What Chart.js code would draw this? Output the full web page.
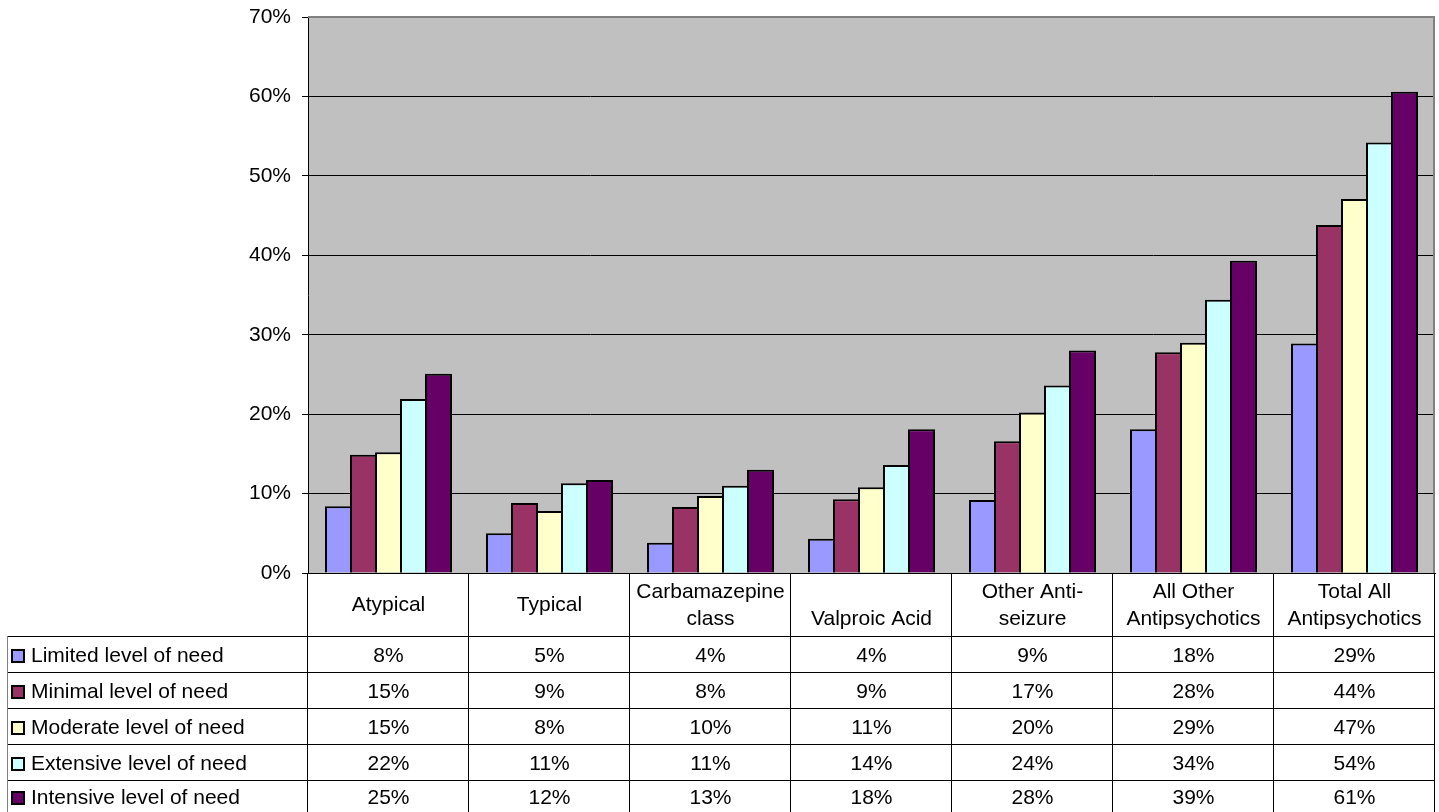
<!DOCTYPE html>
<html>
<head>
<meta charset="utf-8">
<script src="https://cdn.jsdelivr.net/npm/chart.js@4.4.0/dist/chart.umd.min.js"></script>
<style>
  html, body { margin: 0; padding: 0; background: #ffffff; overflow: hidden; }
  #wrap { position: relative; width: 1439px; height: 812px; }
</style>
</head>
<body>
<div id="wrap"><canvas id="chart" width="1439" height="812"></canvas></div>
<script>
// Medication classes (header row of the data table, one entry per text line)
const categories = [
  ['Atypical'],
  ['Typical'],
  ['Carbamazepine', 'class'],
  ['', 'Valproic Acid'],
  ['Other Anti-', 'seizure'],
  ['All Other', 'Antipsychotics'],
  ['Total All', 'Antipsychotics']
];

// Series names, one per level of need
const seriesNames = [
  'Limited level of need',
  'Minimal level of need',
  'Moderate level of need',
  'Extensive level of need',
  'Intensive level of need'
];

// Percent of people in each class, by level of need
const limited   = [8.4, 5.0, 3.8, 4.3, 9.2, 18.1, 28.9];
const minimal   = [14.9, 8.8, 8.3, 9.3, 16.6, 27.8, 43.8];
const moderate  = [15.2, 7.8, 9.7, 10.8, 20.2, 29.0, 47.1];
const extensive = [21.9, 11.3, 11.0, 13.6, 23.6, 34.4, 54.2];
const intensive = [25.1, 11.7, 13.0, 18.1, 28.0, 39.3, 60.6];

const seriesColors = ['#9999FF', '#993366', '#FFFFCC', '#CCFFFF', '#660066'];

// Value axis
const yMin = 0;
const yMax = 70;
const yStep = 10;

const FONT = '"Liberation Sans", Arial, sans-serif';
const FONT_SIZE = 21;

const seriesValues = [limited, minimal, moderate, extensive, intensive];

// Grey plot area behind the bars, grey frame on top/right
const plotFrame = {
  id: 'plotFrame',
  beforeDraw(chart) {
    const { ctx, chartArea: a } = chart;
    ctx.save();
    ctx.fillStyle = '#C0C0C0';
    ctx.fillRect(a.left, a.top, a.right - a.left, a.bottom - a.top);
    ctx.restore();
  },
  afterDatasetsDraw(chart) {
    const { ctx, chartArea: a } = chart;
    ctx.save();
    ctx.strokeStyle = '#808080';
    ctx.lineWidth = 2;
    ctx.beginPath();
    ctx.moveTo(a.left, a.top);
    ctx.lineTo(a.right - 1, a.top);
    ctx.lineTo(a.right - 1, a.bottom);
    ctx.stroke();
    ctx.restore();
  }
};

// Data table under the plot: class names, legend keys and rounded values
const dataTable = {
  id: 'dataTable',
  afterDraw(chart) {
    const { ctx, chartArea: a } = chart;
    const xs = chart.scales.x;
    const n = categories.length;
    const catW = (xs.right - xs.left) / n;
    const headerTop = a.bottom;
    const headerH = 63;
    const rowH = 36;
    const tableLeft = 7;
    const right = xs.right;
    const bottom = chart.height;

    ctx.save();
    ctx.font = FONT_SIZE + 'px ' + FONT;
    ctx.fillStyle = '#000';
    ctx.strokeStyle = '#000';
    ctx.lineWidth = 1;

    // column separators
    for (let k = 0; k <= n; k++) {
      const x = Math.round(xs.left + k * catW) - 0.5;
      ctx.beginPath();
      ctx.moveTo(x, headerTop);
      ctx.lineTo(x, bottom);
      ctx.stroke();
    }

    // row separators
    const rowTops = [];
    for (let r = 0; r < seriesNames.length; r++) {
      const y = headerTop + headerH + r * rowH;
      rowTops.push(y);
      ctx.beginPath();
      ctx.moveTo(tableLeft, Math.round(y) + 0.5);
      ctx.lineTo(right, Math.round(y) + 0.5);
      ctx.stroke();
    }

    // left edge of the legend column
    ctx.strokeStyle = '#808080';
    ctx.beginPath();
    ctx.moveTo(tableLeft + 0.5, headerTop + headerH);
    ctx.lineTo(tableLeft + 0.5, bottom);
    ctx.stroke();

    // header: class names
    ctx.textAlign = 'center';
    ctx.textBaseline = 'middle';
    const headMid = headerTop + headerH / 2 + 1;
    const lineH = 27;
    categories.forEach((lines, i) => {
      const cx = xs.getPixelForValue(i);
      const y0 = headMid - (lines.length - 1) * lineH / 2;
      lines.forEach((t, j) => ctx.fillText(t, cx, y0 + j * lineH));
    });

    // body rows
    seriesNames.forEach((name, r) => {
      const top = rowTops[r];
      const bot = Math.min(top + rowH, bottom);
      const mid = (top + bot) / 2 + 2;

      // legend key
      ctx.fillStyle = seriesColors[r];
      ctx.fillRect(11, mid - 7, 14, 14);
      ctx.strokeStyle = '#000';
      ctx.lineWidth = 2;
      ctx.strokeRect(12, mid - 6, 12, 12);

      ctx.fillStyle = '#000';
      ctx.textAlign = 'left';
      ctx.fillText(name, 31, mid);

      ctx.textAlign = 'center';
      seriesValues[r].forEach((v, i) => {
        ctx.fillText(Math.round(v) + '%', xs.getPixelForValue(i), mid);
      });
    });

    ctx.restore();
  }
};

new Chart(document.getElementById('chart'), {
  type: 'bar',
  data: {
    labels: categories.map(l => l.filter(Boolean).join(' ')),
    datasets: seriesNames.map((name, i) => ({
      label: name,
      data: seriesValues[i],
      backgroundColor: seriesColors[i],
      borderColor: '#000000',
      borderWidth: 2,
      categoryPercentage: 0.7764,
      barPercentage: 1.08
    }))
  },
  options: {
    responsive: false,
    animation: false,
    devicePixelRatio: 1,
    layout: { padding: { left: 0, top: 17, right: 4, bottom: 0 } },
    plugins: {
      legend: { display: false },
      tooltip: { enabled: false },
      title: { display: false }
    },
    scales: {
      x: {
        grid: { display: false, drawTicks: false },
        ticks: { display: false },
        border: { display: true, color: '#000000', width: 1 },
        afterFit(scale) { scale.height = 239; }
      },
      y: {
        min: yMin,
        max: yMax,
        ticks: {
          stepSize: yStep,
          padding: 11,
          color: '#000000',
          font: { family: FONT, size: FONT_SIZE },
          callback: v => v + '%'
        },
        grid: {
          color: c => (c.tick && c.tick.value === yMax) ? 'rgba(0,0,0,0)' : '#000000',
          tickColor: '#000000',
          tickLength: 6,
          lineWidth: 1
        },
        border: { display: true, color: '#000000', width: 1 },
        afterFit(scale) {
          scale.width = 308;
          scale.paddingTop = 0;
          scale.paddingBottom = 0;
        }
      }
    }
  },
  plugins: [plotFrame, dataTable]
});
</script>
</body>
</html>
